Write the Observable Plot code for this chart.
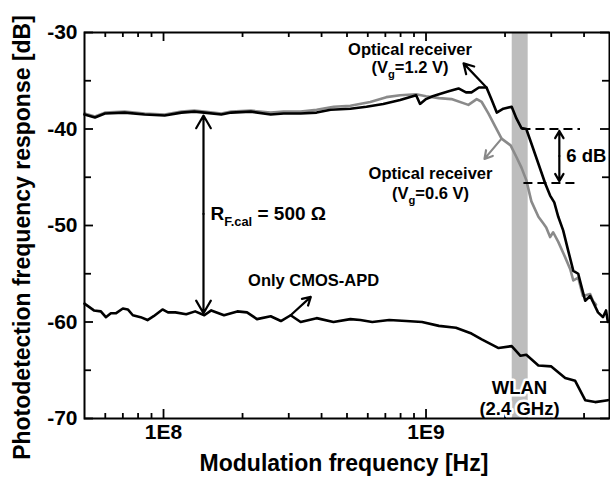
<!DOCTYPE html>
<html><head><meta charset="utf-8">
<script src="https://cdn.jsdelivr.net/npm/d3@7"></script>
<script src="https://cdn.jsdelivr.net/npm/@observablehq/plot@0.6"></script>
<style>
body{margin:0;background:#fff;}
#chart svg{display:block;}
</style></head><body><div id="chart"></div>
<script>
// ---- data (frequency in Hz, response in dB) ----
const freqVg12 = [5.0e7,5.48e7,5.98e7,7.11e7,8.47e7,1.01e8,1.17e8,1.31e8,1.43e8,1.66e8,1.81e8,2.15e8,2.56e8,2.87e8,3.33e8,3.83e8,4.33e8,5.15e8,5.93e8,6.87e8,7.97e8,9.17e8,9.49e8,1.0e9,1.06e9,1.12e9,1.22e9,1.33e9,1.42e9,1.49e9,1.59e9,1.70e9,1.78e9,1.86e9,1.97e9,2.12e9,2.21e9,2.31e9,2.41e9,2.52e9,2.68e9,2.85e9,2.97e9,3.08e9,3.19e9,3.33e9,3.48e9,3.64e9,3.80e9,3.90e9,4.04e9,4.22e9,4.52e9,4.72e9,4.85e9,4.93e9];
const dBVg12 = [-38.5,-38.8,-38.4,-38.3,-38.5,-38.6,-38.3,-38.2,-38.3,-38.5,-38.3,-38.2,-38.5,-38.4,-38.4,-38.3,-38.0,-37.9,-37.7,-37.4,-37.0,-36.5,-37.4,-36.9,-36.6,-36.4,-36.1,-35.8,-36.2,-36.2,-35.7,-35.7,-37.0,-38.3,-37.9,-37.7,-38.9,-39.9,-40.0,-41.5,-43.6,-45.7,-46.9,-47.6,-49.1,-50.5,-52.6,-54.7,-55.0,-56.2,-57.8,-57.3,-59.0,-59.5,-58.8,-60.0];

const freqVg06 = [5.0e7,5.48e7,5.98e7,7.11e7,8.47e7,1.01e8,1.17e8,1.31e8,1.43e8,1.66e8,1.81e8,2.15e8,2.56e8,2.87e8,3.33e8,3.83e8,4.45e8,5.15e8,6.13e8,7.06e8,7.97e8,9.17e8,1.0e9,1.12e9,1.25e9,1.45e9,1.56e9,1.63e9,1.73e9,1.84e9,1.94e9,2.10e9,2.21e9,2.31e9,2.41e9,2.52e9,2.68e9,2.80e9,2.87e9,2.97e9,3.05e9,3.19e9,3.39e9,3.54e9,3.64e9,3.80e9,3.96e9,4.22e9,4.32e9,4.44e9];
const dBVg06 = [-38.4,-38.7,-38.3,-38.2,-38.4,-38.5,-38.2,-38.1,-38.2,-38.4,-38.2,-38.1,-38.3,-38.2,-38.2,-38.0,-37.7,-37.6,-37.2,-36.7,-36.5,-36.4,-36.6,-36.8,-36.9,-37.5,-36.9,-37.2,-38.4,-39.8,-41.0,-41.7,-42.9,-44.0,-45.3,-47.5,-49.1,-49.8,-50.2,-51.2,-50.7,-51.7,-53.3,-54.5,-55.7,-55.4,-57.3,-57.1,-57.8,-58.2];

const freqApd = [5.0e7,5.43e7,5.77e7,6.03e7,6.30e7,6.58e7,7.00e7,7.31e7,7.64e7,8.18e7,8.69e7,9.17e7,9.91e7,1.04e8,1.11e8,1.22e8,1.32e8,1.43e8,1.52e8,1.70e8,1.91e8,2.08e8,2.27e8,2.56e8,2.80e8,3.05e8,3.33e8,3.83e8,4.44e8,5.15e8,5.62e8,6.24e8,7.24e8,8.40e8,9.66e8,1.12e9,1.30e9,1.49e9,1.63e9,1.89e9,2.12e9,2.29e9,2.41e9,2.68e9,3.00e9,3.39e9,3.70e9,4.04e9,4.41e9,4.93e9];
const dBApd = [-58.1,-58.8,-58.9,-59.5,-59.1,-59.1,-58.6,-58.7,-59.3,-59.5,-59.8,-59.4,-58.7,-59.0,-59.0,-59.2,-58.9,-59.3,-58.8,-59.3,-58.9,-59.0,-59.7,-59.4,-59.9,-59.3,-60.0,-59.6,-60.0,-59.7,-59.8,-60.0,-59.8,-59.9,-60.0,-60.4,-60.6,-61.2,-61.8,-62.7,-62.5,-63.5,-63.4,-64.5,-64.6,-65.8,-66.1,-68.1,-68.3,-68.1];

// WLAN band (Hz)
const wlanBand = [2.13e9, 2.45e9];

// axis ticks
const xDomain = [5e7, 5e9];
const yDomain = [-70, -30];
const xMajorTicks = [1e8, 1e9];
const xTickLabels = ["1E8", "1E9"];
const xMinorTicks = [6e7,7e7,8e7,9e7,2e8,3e8,4e8,5e8,6e8,7e8,8e8,9e8,2e9,3e9,4e9];
const yMajorTicks = [-30,-40,-50,-60,-70];
const yMinorTicks = [-35,-45,-55,-65];

// annotations (centered)
const centerText = ["Optical receiver","(V_{g}=1.2 V)","Optical receiver","(V_{g}=0.6 V)"];
const centerX = [8.69e8, 8.69e8, 1.04e9, 1.04e9];
const centerY = [-31.8, -33.7, -44.6, -46.7];
// annotations (left-aligned)
const startText = ["R_{F.cal} = 500 Ω","Only CMOS-APD","6 dB"];
const startX = [1.51e8, 2.10e8, 3.42e9];
const startY = [-48.8, -55.7, -42.8];
const startSize = [19, 16.5, 18.5];

const wlanText = ["WLAN", "(2.4 GHz)"];
const wlanX = [2.27e9, 2.27e9];
const wlanY = [-66.8, -69.0];

const arrowX1 = [1.42e8, 1.42e8, 1.70e9, 1.94e9, 3.05e8, 3.22e9, 3.22e9];
const arrowY1 = [-48.8, -48.8, -35.7, -41.0, -59.3, -42.8, -42.8];
const arrowX2 = [1.42e8, 1.42e8, 1.39e9, 1.67e9, 3.64e8, 3.22e9, 3.22e9];
const arrowY2 = [-38.6, -59.1, -33.2, -43.1, -57.4, -40.2, -45.4];
const arrowColor = ["black","black","black","#888","black","black","black"];

const dashX1 = [2.31e9, 2.35e9];
const dashX2 = [3.86e9, 3.80e9];
const dashY = [-40.0, -45.6];

// ---- build ----
const W = 610, H = 487, mL = 84, mT = 32, mR = 1, mB = 69;
const fw = W - mL - mR, fh = H - mT - mB;
const font = "'Liberation Sans', Arial, sans-serif";

const toRows = (xs, ys) => xs.map((x, i) => ({x, y: ys[i]}));
const sVg12 = toRows(freqVg12, dBVg12);
const sVg06 = toRows(freqVg06, dBVg06);
const sApd = toRows(freqApd, dBApd);
const cLabels = centerText.map((t, i) => ({t, x: centerX[i], y: centerY[i]}));
const sLabels = startText.map((t, i) => ({t, x: startX[i], y: startY[i], s: startSize[i]}));
const wlan = wlanText.map((t, i) => ({t, x: wlanX[i], y: wlanY[i]}));
const arrows = arrowX1.map((x1, i) => ({x1, y1: arrowY1[i], x2: arrowX2[i], y2: arrowY2[i], c: arrowColor[i]}));
const dashes = dashY.map((y, i) => ({x1: dashX1[i], x2: dashX2[i], y}));

const tickStyle = {stroke: "black", strokeWidth: 1.8};

const chart = Plot.plot({
  width: W, height: H,
  marginLeft: mL, marginTop: mT, marginRight: mR, marginBottom: mB,
  style: {fontFamily: font, fontWeight: "bold", background: "white", color: "black"},
  x: {type: "log", domain: xDomain, axis: null},
  y: {domain: yDomain, axis: null},
  marks: [
    Plot.rect([wlanBand], {x1: d => d[0], x2: d => d[1], fill: "#bdbdbd"}),
    Plot.line(sVg06, {x: "x", y: "y", stroke: "#8a8a8a", strokeWidth: 2.6}),
    Plot.line(sVg12, {x: "x", y: "y", stroke: "black", strokeWidth: 2.6}),
    Plot.line(sApd, {x: "x", y: "y", stroke: "black", strokeWidth: 2.6}),
    // ticks (inward), bottom/top/left/right
    Plot.tickX(xMajorTicks, {x: d => d, insetTop: fh - 9, ...tickStyle}),
    Plot.tickX(xMinorTicks, {x: d => d, insetTop: fh - 5, ...tickStyle}),
    Plot.tickX(xMajorTicks, {x: d => d, insetBottom: fh - 9, ...tickStyle}),
    Plot.tickX(xMinorTicks, {x: d => d, insetBottom: fh - 5, ...tickStyle}),
    Plot.tickY(yMajorTicks, {y: d => d, insetRight: fw - 9, ...tickStyle}),
    Plot.tickY(yMinorTicks, {y: d => d, insetRight: fw - 7, ...tickStyle}),
    Plot.tickY(yMajorTicks, {y: d => d, insetLeft: fw - 9, ...tickStyle}),
    Plot.tickY(yMinorTicks, {y: d => d, insetLeft: fw - 7, ...tickStyle}),
    // 6 dB dashed guides
    Plot.link(dashes, {x1: "x1", x2: "x2", y1: "y", y2: "y", stroke: "black", strokeWidth: 2, strokeDasharray: "9,5"}),
    // arrows
    Plot.arrow(arrows, {x1: "x1", y1: "y1", x2: "x2", y2: "y2", stroke: d => d.c, strokeWidth: 2.2, headLength: 10, headAngle: 60}),
    // labels
    Plot.text(cLabels, {x: "x", y: "y", text: "t", textAnchor: "middle", fontSize: 16.5, fill: "black"}),
    Plot.text(sLabels, {x: "x", y: "y", text: "t", textAnchor: "start", fontSize: d => d.s, fill: "black"}),
    Plot.text(wlan, {x: "x", y: "y", text: "t", textAnchor: "middle", fontSize: 18.5, fill: "black", stroke: "white", strokeWidth: 5}),
    // tick labels
    Plot.text(yMajorTicks, {y: d => d, text: d => String(d), frameAnchor: "left", textAnchor: "end", dx: -7, fontSize: 21, fill: "black"}),
    Plot.text(xMajorTicks, {x: d => d, text: (d, i) => xTickLabels[i], frameAnchor: "bottom", textAnchor: "middle", dy: 20, fontSize: 21, fill: "black"}),
    // axis titles
    Plot.text(["Modulation frequency [Hz]"], {frameAnchor: "bottom", textAnchor: "middle", dx: -3, dy: 52, fontSize: 23, fill: "black"}),
    Plot.text(["Photodetection frequency response [dB]"], {frameAnchor: "left", textAnchor: "middle", rotate: -90, dx: -62, dy: 12, fontSize: 23, fill: "black"}),
    Plot.frame({stroke: "black", strokeWidth: 2})
  ]
});

document.getElementById("chart").appendChild(chart);

// subscripts: pattern A_{sub}B
d3.select(chart).selectAll("text").each(function() {
  const t = this.textContent;
  const m = t.match(/^(.*?)_\{(.*?)\}(.*)$/);
  if (!m) return;
  const fs = parseFloat(getComputedStyle(this).fontSize) || 16;
  this.textContent = "";
  const s = d3.select(this);
  s.append("tspan").text(m[1]);
  s.append("tspan").attr("font-size", (fs * 0.68).toFixed(1)).attr("dy", (fs * 0.3).toFixed(1)).text(m[2]);
  s.append("tspan").attr("dy", (-fs * 0.3).toFixed(1)).text(m[3]);
});
</script>
</body></html>
